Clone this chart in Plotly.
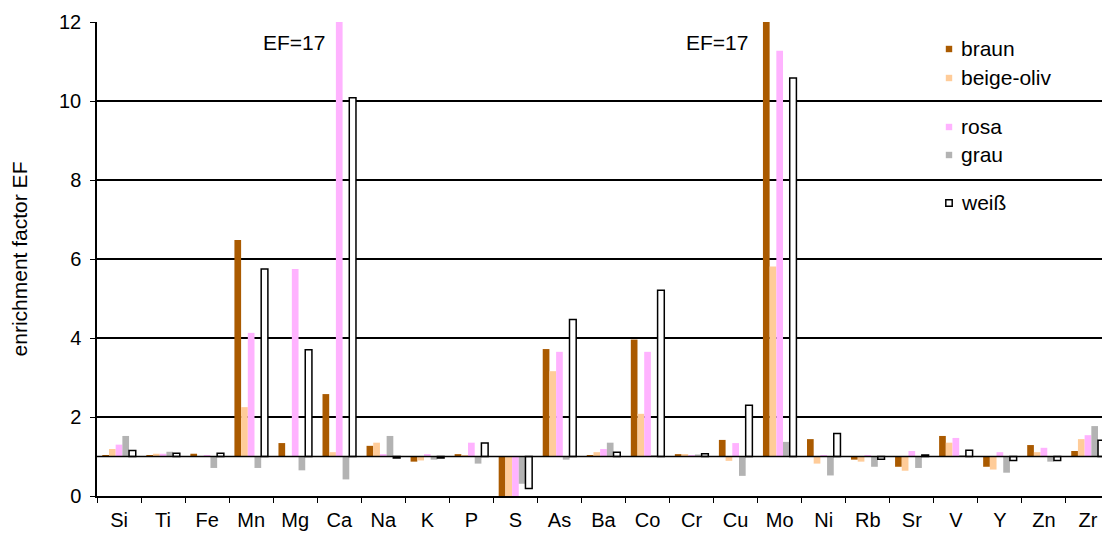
import plotly.graph_objects as go

elements = ["Si", "Ti", "Fe", "Mn", "Mg", "Ca", "Na", "K", "P", "S", "As", "Ba",
            "Co", "Cr", "Cu", "Mo", "Ni", "Rb", "Sr", "V", "Y", "Zn", "Zr"]

braun = [1.03, 1.03, 1.07, 6.48, 1.34, 2.58, 1.27, 0.87, 1.06, 0.0, 3.72, 1.03,
         3.96, 1.06, 1.42, 17.0, 1.44, 0.92, 0.74, 1.52, 0.74, 1.29, 1.14]
beige_oliv = [1.19, 1.07, 1.0, 2.25, 1.0, 1.11, 1.35, 0.90, 1.03, 0.0, 3.16, 1.11,
              2.08, 1.06, 0.89, 5.81, 0.82, 0.87, 0.64, 1.35, 0.67, 1.11, 1.44]
rosa = [1.30, 1.07, 1.03, 4.13, 5.75, 17.0, 1.06, 1.06, 1.35, 0.0, 3.65, 1.19,
        3.65, 1.03, 1.34, 11.27, 1.02, 1.03, 1.14, 1.47, 1.11, 1.22, 1.54]
grau = [1.52, 1.12, 0.71, 0.71, 0.65, 0.42, 1.52, 0.92, 0.82, 0.31, 0.92, 1.35,
        1.02, 1.05, 0.51, 1.37, 0.52, 0.74, 0.71, 1.03, 0.59, 0.87, 1.77]
weiss = [1.15, 1.08, 1.08, 5.75, 3.70, 10.08, 0.96, 0.96, 1.34, 0.19, 4.47, 1.11,
         5.21, 1.07, 2.30, 10.58, 1.58, 0.93, 1.04, 1.16, 0.90, 0.90, 1.41]

baseline = 1.0
annotations_text = ["EF=17", "EF=17"]
annotations_at = ["Ca", "Mo"]
annotations_xshift = [-45, -63]

series_names = ["braun", "beige-oliv", "rosa", "grau", "weiß"]
series_values = [braun, beige_oliv, rosa, grau, weiss]
fills = ["#AA5A00", "#FFCC99", "#FFB3FF", "#B3B3B3", "#FFFFFF"]
outlines = ["#AA5A00", "#FFCC99", "#FFB3FF", "#B3B3B3", "#000000"]
outline_w = [0, 0, 0, 0, 1.5]

font_family = "Arial, Liberation Sans, sans-serif"

# page layout (page pixels; figure sits at an 8px body offset)
OFF = 8
W, H = 1110, 540
PL, PR, PT, PB = 97, 1110, 22, 496

fig = go.Figure()
for name, vals, fill, lc, lw in zip(series_names, series_values, fills, outlines, outline_w):
    fig.add_trace(go.Bar(
        x=elements,
        y=[v - baseline for v in vals],
        base=[baseline] * len(vals),
        name=name,
        showlegend=False,
        marker=dict(color=fill, line=dict(color=lc, width=lw)),
    ))

fig.add_hline(y=baseline, line=dict(color="black", width=1.5), layer="above")

for txt, at, xs in zip(annotations_text, annotations_at, annotations_xshift):
    fig.add_annotation(x=at, y=11.47, text=txt, showarrow=False,
                       xshift=xs, font=dict(size=21, color="black"))

# manual legend (positions in page pixels -> paper coords)
def px_x(px):
    return (px - PL) / (PR - PL)

def px_y(py):
    return (PB - py) / (PB - PT)

legend_y = [48, 77, 126, 154, 202]
sym_x, sym_half, text_x = 949, 3.2, 959
for name, fill, lc, lw, ly in zip(series_names, fills, outlines, outline_w, legend_y):
    fig.add_shape(type="rect", xref="paper", yref="paper",
                  x0=px_x(sym_x - sym_half), x1=px_x(sym_x + sym_half),
                  y0=px_y(ly + 1 + sym_half), y1=px_y(ly + 1 - sym_half),
                  fillcolor=fill,
                  line=dict(color=lc if lw > 0 else fill, width=lw if lw > 0 else 0))
    fig.add_annotation(xref="paper", yref="paper", x=px_x(text_x), y=px_y(ly),
                       xanchor="left", yanchor="middle", text=name, showarrow=False,
                       font=dict(size=21, color="black"))

fig.update_layout(
    width=W, height=H,
    margin=dict(l=PL - OFF, r=W + OFF - PR, t=PT - OFF, b=H + OFF - PB),
    paper_bgcolor="white", plot_bgcolor="white",
    font=dict(family=font_family, color="black"),
    barmode="group", bargap=0.24, bargroupgap=0,
    showlegend=False,
    xaxis=dict(showline=True, linecolor="black", linewidth=1.5,
               ticks="outside", tickson="boundaries", ticklen=5,
               tickcolor="black", tickfont=dict(size=20), ticklabelstandoff=5,
               showgrid=False, automargin=False),
    yaxis=dict(range=[0, 12], dtick=2, showline=True, linecolor="black",
               linewidth=1.5, ticks="outside", ticklen=5, tickcolor="black",
               showgrid=True, gridcolor="black", gridwidth=1.5,
               tickfont=dict(size=20), zeroline=False, ticklabelstandoff=5,
               automargin=False,
               title=dict(text="enrichment factor EF", font=dict(size=21), standoff=26)),
)

fig.write_html("out.html")
